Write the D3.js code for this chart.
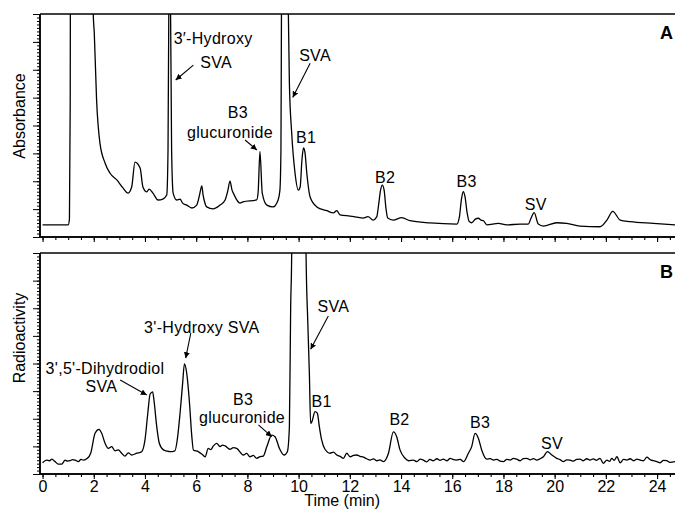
<!DOCTYPE html>
<html>
<head>
<meta charset="utf-8">
<script src="https://cdn.jsdelivr.net/npm/d3@7"></script>
<style>
  body { margin: 0; background: #fff; }
  svg { display: block; font-family: "Liberation Sans", Arial, Helvetica, sans-serif; }
</style>
</head>
<body>
<div id="chart"></div>
<script>
// UV trace, [time (min), signal (a.u.)]
const absorbance = [
  [0, 5.4], [1.0, 5.4], [1.05, 8], [1.08, 60], [1.1, 200], [1.5, 300], [1.94, 200], [1.98, 100],
  [2.02, 91.5], [2.11, 61.4], [2.24, 42.2], [2.44, 33.2], [2.63, 28.7], [2.9, 25.6], [3.14, 22],
  [3.34, 19.7], [3.48, 22.4], [3.61, 33.6], [3.81, 30.9], [3.92, 22.4], [4.07, 20.2], [4.16, 21.5],
  [4.31, 19.7], [4.51, 16.6], [4.7, 17], [4.85, 18.8], [4.9, 39], [4.93, 100], [4.96, 250], [5.0, 100],
  [5.04, 39], [5.1, 19.7], [5.24, 16.6], [5.37, 17], [5.47, 15.2], [5.63, 14.3], [5.83, 13], [6.02, 14.3],
  [6.13, 18.8], [6.22, 22.9], [6.27, 18.8], [6.31, 16.6], [6.41, 13.5], [6.66, 12.6], [6.93, 14.3],
  [7.13, 16.6], [7.24, 21], [7.32, 25.1], [7.4, 21], [7.45, 19.7], [7.71, 15.2], [7.83, 15.8],
  [8.36, 16.6], [8.42, 20.2], [8.49, 38.3], [8.58, 19.7], [8.76, 14.3], [9.0, 13.5], [9.2, 16.6],
  [9.27, 21], [9.31, 39], [9.33, 100], [9.45, 400], [9.6, 100], [9.64, 69], [9.73, 46.6], [9.86, 28.7],
  [9.99, 21], [10.06, 22.4], [10.13, 34.5], [10.19, 39.9], [10.25, 37.7], [10.32, 28.7], [10.45, 17.9],
  [10.71, 13.5], [11.1, 11.8], [11.36, 10.8], [11.49, 11.8], [11.62, 9.9], [12.01, 9.4], [12.52, 8.5],
  [12.71, 9.1], [12.91, 7.6], [13.05, 9.0], [13.12, 14], [13.2, 21], [13.27, 23.3], [13.34, 21],
  [13.41, 13], [13.48, 8.5], [13.69, 7.6], [14.03, 8.7], [14.35, 7.3], [15.13, 6.3], [16.18, 5.8],
  [16.28, 9], [16.36, 17], [16.43, 20.3], [16.5, 18], [16.58, 11], [16.66, 7], [16.76, 6.4], [16.9, 8.0],
  [17.02, 8.4], [17.12, 7.6], [17.22, 7.3], [17.35, 5.4], [17.8, 6.1], [18.13, 5.4], [18.65, 5.8],
  [18.97, 5.8], [19.08, 8.5], [19.2, 10.9], [19.36, 5.8], [19.56, 4.9], [20.08, 6.4], [20.47, 6.1],
  [20.99, 4.9], [21.77, 4.6], [22.04, 7.6], [22.27, 11.5], [22.56, 7.6], [22.95, 6.9], [23.86, 6.1],
  [24.7, 5.4]
];

// radio trace, [time (min), counts (a.u.)]
const radioactivity = [
  [0, 5.1], [0.16, 6.3], [0.27, 6.0], [0.36, 6.7], [0.49, 5.6], [0.61, 4.5], [0.75, 4.5], [0.88, 6.3],
  [0.97, 5.8], [1.07, 6.0], [1.17, 6.5], [1.27, 6.3], [1.4, 5.6], [1.5, 6.6], [1.59, 6.3], [1.75, 7.1],
  [1.88, 9.4], [2.05, 18.4], [2.2, 20.2], [2.31, 18.4], [2.44, 13.9], [2.57, 11.6], [2.7, 12.4],
  [2.83, 10.5], [2.96, 10.9], [3.09, 9.4], [3.22, 8.1], [3.35, 9.6], [3.48, 8.6], [3.68, 9.4], [3.87, 10.1],
  [4.0, 15.4], [4.11, 27.5], [4.2, 36.2], [4.3, 37.2], [4.35, 33.5], [4.46, 21.4], [4.56, 13.9],
  [4.72, 10.9], [4.85, 10.4], [4.98, 10.1], [5.17, 10.5], [5.26, 15.4], [5.37, 27.5], [5.47, 41.0],
  [5.54, 49.8], [5.63, 45.6], [5.73, 33.5], [5.83, 16.9], [5.89, 10.9], [6.08, 10.1], [6.26, 8.6],
  [6.35, 7.8], [6.47, 11.6], [6.57, 11.0], [6.67, 12.7], [6.8, 13.9], [6.93, 12.4], [7.03, 13.1],
  [7.13, 12.7], [7.32, 11.2], [7.45, 11.9], [7.58, 11.6], [7.84, 8.6], [7.97, 9.3], [8.1, 7.8],
  [8.23, 8.4], [8.36, 7.1], [8.5, 7.9], [8.62, 8.1], [8.76, 12.4], [8.95, 17.6], [9.08, 16.9],
  [9.25, 11.6], [9.43, 8.6], [9.56, 10.1], [9.64, 21.4], [9.69, 75.7], [9.73, 100], [9.76, 200],
  [10.0, 300], [10.26, 200], [10.29, 100], [10.36, 68.2], [10.42, 45.6], [10.47, 22.9], [10.52, 23.7],
  [10.64, 28.2], [10.73, 27.5], [10.81, 21.4], [10.9, 15.4], [11.03, 11.2], [11.23, 9.4], [11.36, 9.9],
  [11.49, 8.6], [11.62, 8.0], [11.75, 7.1], [11.88, 9.4], [12.01, 7.8], [12.14, 8.4], [12.27, 8.6],
  [12.4, 8.0], [12.53, 7.6], [12.66, 6.9], [12.79, 6.3], [12.92, 6.8], [13.05, 6.0], [13.18, 6.4],
  [13.31, 5.6], [13.51, 9.4], [13.7, 19.1], [13.83, 16.9], [13.96, 10.9], [14.16, 7.1], [14.3, 6.0],
  [14.48, 6.3], [14.62, 5.6], [14.75, 6.7], [14.87, 6.3], [15.0, 5.5], [15.13, 6.6], [15.26, 6.0],
  [15.4, 6.9], [15.52, 6.2], [15.65, 6.7], [15.8, 6.0], [15.92, 7.1], [16.05, 6.5], [16.18, 6.3],
  [16.31, 6.6], [16.44, 5.6], [16.63, 9.4], [16.76, 12.4], [16.89, 18.4], [17.02, 16.2], [17.15, 10.9],
  [17.35, 6.7], [17.48, 7.0], [17.61, 6.3], [17.75, 6.6], [17.87, 5.8], [18.0, 5.6], [18.13, 6.6],
  [18.26, 6.3], [18.39, 7.1], [18.52, 6.7], [18.65, 6.0], [18.78, 7.0], [18.91, 7.1], [19.04, 6.4],
  [19.17, 7.0], [19.3, 6.3], [19.43, 6.9], [19.56, 7.8], [19.72, 10.1], [19.89, 8.6], [20.08, 7.1],
  [20.21, 6.5], [20.34, 5.6], [20.47, 6.4], [20.6, 6.3], [20.73, 5.8], [20.86, 6.6], [20.99, 6.7],
  [21.12, 6.0], [21.25, 6.9], [21.38, 6.3], [21.51, 6.8], [21.64, 6.2], [21.77, 7.1], [21.9, 4.8],
  [22.04, 6.3], [22.15, 5.7], [22.23, 7.1], [22.33, 6.2], [22.43, 7.8], [22.56, 5.1], [22.69, 6.6],
  [22.82, 6.3], [22.95, 6.9], [23.08, 6.0], [23.21, 6.7], [23.34, 6.3], [23.47, 6.0], [23.6, 7.6],
  [23.73, 6.5], [23.86, 6.0], [23.99, 5.6], [24.12, 5.1], [24.25, 6.2], [24.38, 6.0], [24.5, 5.3],
  [24.7, 5.6]
];

const timeTicks = [0, 2, 4, 6, 8, 10, 12, 14, 16, 18, 20, 22, 24];

// annotations, placed in data units [time, signal]
const topLabels = [
  { text: "3\u2032-Hydroxy", t: 6.66, v: 86.5 },
  { text: "SVA", t: 6.78, v: 75.8 },
  { text: "B3", t: 7.63, v: 53.4 },
  { text: "glucuronide", t: 7.32, v: 44.4 },
  { text: "SVA", t: 10.64, v: 78.9 },
  { text: "B1", t: 10.29, v: 42.2 },
  { text: "B2", t: 13.38, v: 24.2 },
  { text: "B3", t: 16.56, v: 22.6 },
  { text: "SV", t: 19.26, v: 12.1 }
];
const topArrows = [
  [[5.89, 77.1], [5.2, 70.4]],
  [[7.91, 43.5], [8.37, 39.0]],
  [[10.45, 77.9], [9.77, 62.6]]
];
const bottomLabels = [
  { text: "3',5'-Dihydrodiol", t: 2.44, v: 45.4 },
  { text: "SVA", t: 2.30, v: 36.9 },
  { text: "3'-Hydroxy SVA", t: 6.22, v: 63.8 },
  { text: "B3", t: 7.83, v: 31.2 },
  { text: "glucuronide", t: 7.79, v: 23.1 },
  { text: "SVA", t: 11.36, v: 73.4 },
  { text: "B1", t: 10.9, v: 30.5 },
  { text: "B2", t: 13.94, v: 22.2 },
  { text: "B3", t: 17.09, v: 20.8 },
  { text: "SV", t: 19.9, v: 11.3 }
];
const bottomArrows = [
  [[3.03, 42.5], [4.07, 35.7]],
  [[5.79, 63.8], [5.59, 52.4]],
  [[8.43, 22.2], [8.95, 16.9]],
  [[11.16, 71.5], [10.47, 56.4]]
];

const W = 675, H = 510;
const left = 40, right = 675;

const svg = d3.select("#chart").append("svg")
  .attr("width", W)
  .attr("height", H);

svg.append("defs").append("marker")
  .attr("id", "head")
  .attr("viewBox", "0 0 10 10")
  .attr("refX", 10)
  .attr("refY", 5)
  .attr("markerWidth", 6)
  .attr("markerHeight", 6)
  .attr("markerUnits", "userSpaceOnUse")
  .attr("orient", "auto")
  .append("path")
  .attr("d", "M0,0 L10,5 L0,10 Z")
  .attr("fill", "#000");

const x = d3.scaleLinear().domain([-0.1, 24.7]).range([left, right]);

function drawPanel(id, top, bottom, data, yTitle, titleY, letter, labels, arrows, showTickLabels) {
  const y = d3.scaleLinear().domain([0, 100]).range([bottom, top]);
  const g = svg.append("g");

  svg.select("defs").append("clipPath")
    .attr("id", "clip" + id)
    .append("rect")
    .attr("x", left)
    .attr("y", top)
    .attr("width", right - left)
    .attr("height", bottom - top);

  const line = d3.line()
    .x(d => x(d[0]))
    .y(d => y(d[1]))
    .curve(d3.curveMonotoneX);

  g.append("path")
    .datum(data)
    .attr("clip-path", `url(#clip${id})`)
    .attr("fill", "none")
    .attr("stroke", "#000")
    .attr("stroke-width", 1.3)
    .attr("d", line);

  // frame: top line
  g.append("line")
    .attr("x1", left).attr("x2", right)
    .attr("y1", top).attr("y2", top)
    .attr("stroke", "#000").attr("stroke-width", 1.5);

  // x axis, minor + major ticks
  const xMinor = g.append("g")
    .attr("transform", `translate(0,${bottom})`)
    .call(d3.axisBottom(x).tickValues(d3.range(0, 24.6, 0.5)).tickSize(3).tickFormat(""));
  const xMajor = g.append("g")
    .attr("transform", `translate(0,${bottom})`)
    .call(d3.axisBottom(x).tickValues(timeTicks).tickSize(5).tickPadding(2)
      .tickFormat(showTickLabels ? d3.format("d") : ""));
  [xMinor, xMajor].forEach(a => {
    a.select(".domain").attr("d", `M${left},0H${right}`).attr("stroke-width", 1.5);
    a.selectAll(".tick line").attr("stroke-width", 1.1);
  });
  xMajor.selectAll("text")
    .attr("font-family", "Liberation Sans, Arial, sans-serif")
    .attr("font-size", 16)
    .attr("fill", "#000");

  // y axis, dense ticks, no labels
  const yMinor = g.append("g")
    .attr("transform", `translate(${left},0)`)
    .call(d3.axisLeft(y).tickValues(d3.range(0, 100.01, 1.5625)).tickSize(3).tickFormat(""));
  const yMajor = g.append("g")
    .attr("transform", `translate(${left},0)`)
    .call(d3.axisLeft(y).tickValues(d3.range(0, 100.01, 12.5)).tickSize(7).tickFormat(""));
  [yMinor, yMajor].forEach(a => {
    a.select(".domain").attr("d", `M0,${bottom}V${top}`).attr("stroke-width", 1.5);
    a.selectAll(".tick line").attr("stroke-width", 1);
  });

  g.append("text")
    .attr("transform", `translate(25,${titleY}) rotate(-90)`)
    .attr("text-anchor", "middle")
    .attr("font-size", 16)
    .text(yTitle);

  g.append("text")
    .attr("x", 673)
    .attr("y", top + 25)
    .attr("text-anchor", "end")
    .attr("font-size", 18)
    .attr("font-weight", "bold")
    .text(letter);

  g.selectAll(".lbl")
    .data(labels)
    .join("text")
    .attr("class", "lbl")
    .attr("x", d => x(d.t))
    .attr("y", d => y(d.v))
    .attr("text-anchor", "middle")
    .attr("font-size", 16)
    .attr("letter-spacing", 0.3)
    .text(d => d.text);

  g.selectAll(".arr")
    .data(arrows)
    .join("line")
    .attr("class", "arr")
    .attr("x1", d => x(d[0][0]))
    .attr("y1", d => y(d[0][1]))
    .attr("x2", d => x(d[1][0]))
    .attr("y2", d => y(d[1][1]))
    .attr("stroke", "#000")
    .attr("stroke-width", 1.1)
    .attr("marker-end", "url(#head)");
}

drawPanel("A", 14, 237, absorbance, "Absorbance", 116, "A", topLabels, topArrows, false);
drawPanel("B", 253, 474, radioactivity, "Radioactivity", 338, "B", bottomLabels, bottomArrows, true);

svg.append("text")
  .attr("x", x(11.7))
  .attr("y", 505.5)
  .attr("text-anchor", "middle")
  .attr("font-size", 16)
  .text("Time (min)");
</script>
</body>
</html>
